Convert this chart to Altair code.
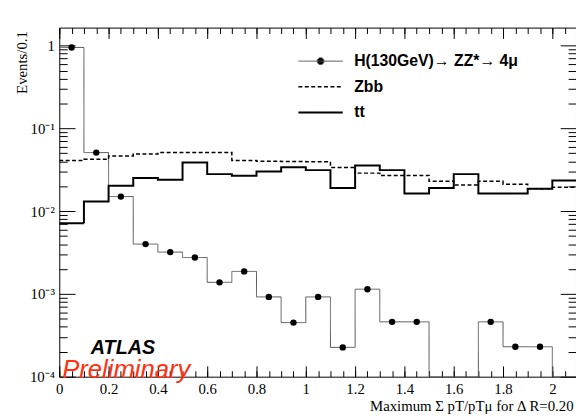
import altair as alt
import pandas as pd

# ---- data ----
bin_lo = [0.0, 0.1, 0.2, 0.3, 0.4, 0.5, 0.6, 0.7, 0.8, 0.9, 1.0,
          1.1, 1.2, 1.3, 1.4, 1.5, 1.6, 1.7, 1.8, 1.9, 2.0]
bin_width = 0.1
h_vals = [0.95, 0.051, 0.015, 0.0040, 0.0032, 0.00275, 0.00138, 0.00187, 0.00092, 0.00045,
          0.00092, 0.000226, 0.00114, 0.00046, 0.00046, 0, 0, 0.00046, 0.00023, 0.00023, 0]
zbb_vals = [0.0408, 0.0423, 0.0465, 0.049, 0.051, 0.051, 0.051, 0.041, 0.040, 0.0397,
            0.0395, 0.0337, 0.0288, 0.027, 0.027, 0.0229, 0.0207, 0.0229, 0.0212, 0.0187, 0.0195]
tt_vals = [0.00713, 0.0131, 0.0203, 0.0251, 0.024, 0.0387, 0.028, 0.0267, 0.0301, 0.034,
           0.0313, 0.019, 0.0356, 0.0313, 0.0163, 0.019, 0.028, 0.0163, 0.0163, 0.0187, 0.0235]

H_LABEL = "H(130GeV)→ ZZ*→ 4μ"
series_names = [H_LABEL, "Zbb", "tt"]
series_colors = ["#555555", "black", "black"]
series_dash = [[1, 0], [4, 2.5], [1, 0]]
series_width = [1, 2, 2]
LINE_PATH = "M-4.5,0H4.5"
H_PATH = "M-4.5,0H4.5M0.7,0A0.7,0.7,0,1,1,-0.7,0A0.7,0.7,0,1,1,0.7,0"
series_shapes = [H_PATH, LINE_PATH, LINE_PATH]

x_major = [0, 0.2, 0.4, 0.6, 0.8, 1, 1.2, 1.4, 1.6, 1.8, 2]
x_minor = [round(0.05 * i, 2) for i in range(43)]
y_major = [1e-4, 1e-3, 1e-2, 1e-1, 1]
y_major_labels = ["10⁻⁴", "10⁻³", "10⁻²", "10⁻¹", "1"]
y_minor = [m * 10.0 ** k for k in range(-4, 0) for m in range(2, 10)]

X_DOMAIN = [0, 2.096]
Y_DOMAIN = [1e-4, 1.65]
W, H = 524, 354

# ---- tables ----
rows = []
for name, vals in zip(series_names, [h_vals, zbb_vals, tt_vals]):
    for lo, v in zip(bin_lo, vals):
        rows.append({"series": name, "x": lo, "v": v})
    rows.append({"series": name, "x": bin_lo[-1] + bin_width, "v": vals[-1]})
steps = pd.DataFrame(rows)

pts = pd.DataFrame({"xc": [lo + bin_width / 2 for lo in bin_lo], "h": h_vals})

# ---- label expression for y ----
yexpr = ""
for v, lab in zip(y_major[:-1], y_major_labels[:-1]):
    yexpr += f"datum.value < {v * 3.16} ? '{lab}' : "
yexpr += f"'{y_major_labels[-1]}'"

SERIF = "Liberation Serif"
common_axis = dict(grid=False, domain=False, tickColor="black", tickWidth=1)

xs = alt.Scale(domain=X_DOMAIN, nice=False, zero=False)
ys = alt.Scale(type="log", domain=Y_DOMAIN, nice=False)

leg = alt.Legend(
    orient="none", legendX=257, legendY=26, title=None, padding=0,
    labelFont="Liberation Sans", labelFontSize=16, labelFontWeight="bold",
    labelColor="black", labelLimit=0, symbolSize=100, symbolType=LINE_PATH,
    labelOffset=26, rowPadding=10, symbolOpacity=1, symbolFillColor="black",
)

lines = alt.Chart(steps).transform_calculate(
    yv="max(datum.v, 0.0001)"
).mark_line(interpolate="step-after", clip=True).encode(
    x=alt.X("x:Q", scale=xs, axis=alt.Axis(
        orient="bottom", values=x_major, format="~g", tickSize={"expr": "-11"},
        labelPadding=16, labelFont=SERIF, labelFontSize=15, labelColor="black",
        labelOverlap=False, labelFlush=False,
        title="Maximum Σ pT/pTμ for Δ R=0.20", titleFont=SERIF, titleFontSize=15,
        titleFontWeight="normal", titleColor="black", titleAnchor="end",
        titleAlign="right", titleBaseline="alphabetic", titleX=521, titleY=34,
        **common_axis)),
    y=alt.Y("yv:Q", scale=ys, axis=alt.Axis(
        orient="left", values=y_major, labelExpr=yexpr, tickSize={"expr": "-16"},
        labelPadding=21, labelFont=SERIF, labelFontSize=15, labelColor="black",
        labelOverlap=False, labelFlush=False,
        title="Events/0.1", titleFont=SERIF, titleFontSize=15, titleFontWeight="normal",
        titleColor="black", titleAngle=-90, titleAlign="right", titleBaseline="middle",
        titleX=-38, titleY=3, **common_axis)),
    color=alt.Color("series:N", scale=alt.Scale(domain=series_names, range=series_colors), legend=leg),
    strokeDash=alt.StrokeDash("series:N", scale=alt.Scale(domain=series_names, range=series_dash), legend=leg),
    strokeWidth=alt.StrokeWidth("series:N", scale=alt.Scale(domain=series_names, range=series_width), legend=leg),
)

points = alt.Chart(pts).transform_filter("datum.h > 0").mark_point(
    filled=True, color="black", size=42, opacity=1, clip=True
).encode(
    x=alt.X("xc:Q", scale=xs, axis=alt.Axis(orient="bottom", values=x_minor, tickSize={"expr": "-6"},
                                           labels=False, title=None, **common_axis)),
    y=alt.Y("h:Q", scale=ys, axis=alt.Axis(orient="left", values=y_minor, tickSize={"expr": "-8"},
                                          labels=False, title=None, **common_axis)),
)

frame_major = alt.Chart(steps).transform_filter("datum.v > 0").mark_point(
    opacity=0, filled=True, color="black"
).encode(
    x=alt.X("x:Q", scale=xs, axis=alt.Axis(orient="top", values=x_major, tickSize={"expr": "-11"},
                                          labels=False, title=None, **common_axis)),
    y=alt.Y("v:Q", scale=ys, axis=alt.Axis(orient="right", values=y_major, tickSize={"expr": "-16"},
                                          labels=False, title=None, **common_axis)),
    shape=alt.Shape("series:N", scale=alt.Scale(domain=series_names, range=series_shapes), legend=leg),
)

frame_minor = alt.Chart(pts).transform_filter("datum.h > 0").mark_point(opacity=0).encode(
    x=alt.X("xc:Q", scale=xs, axis=alt.Axis(orient="top", values=x_minor, tickSize={"expr": "-6"},
                                           labels=False, title=None, **common_axis)),
    y=alt.Y("h:Q", scale=ys, axis=alt.Axis(orient="right", values=y_minor, tickSize={"expr": "-8"},
                                          labels=False, title=None, **common_axis)),
)

atlas = alt.Chart(pd.DataFrame({"t": ["ATLAS"]})).mark_text(
    font="Liberation Sans", fontSize=20, fontWeight="bold", fontStyle="italic",
    color="black", align="left", baseline="alphabetic"
).encode(text="t:N", x=alt.value(32), y=alt.value(331))

prelim = alt.Chart(pd.DataFrame({"t": ["Preliminary"]})).mark_text(
    font="Liberation Sans", fontSize=26, fontStyle="italic",
    color="#ff3010", align="left", baseline="alphabetic"
).encode(text="t:N", x=alt.value(3), y=alt.value(355))

chart = alt.layer(lines, points, frame_major, frame_minor, atlas, prelim).resolve_axis(
    x="independent", y="independent"
).properties(
    width=W, height=H,
    autosize=alt.AutoSizeParams(type="none"),
    padding={"left": 52, "top": 17, "right": 0, "bottom": 38},
    background="white",
).configure_view(stroke="black", strokeWidth=1)

chart.save("out.html", embed_options={"renderer": "svg", "actions": False})
